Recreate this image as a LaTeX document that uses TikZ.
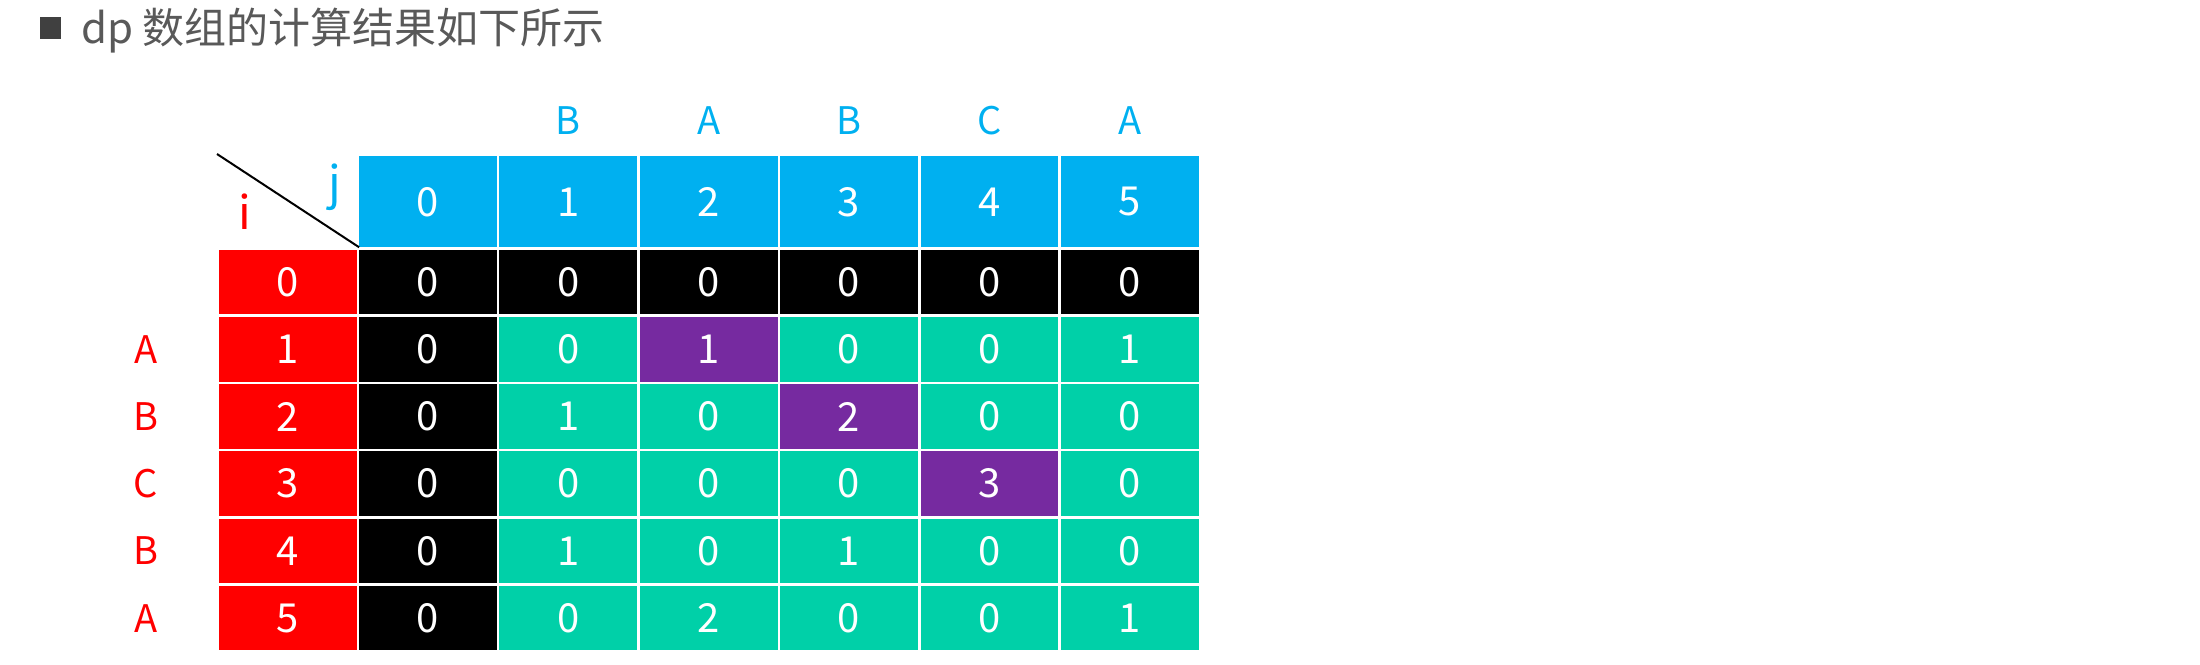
\documentclass[tikz,border=0pt]{standalone}
\usepackage{fontspec}
\setmainfont{Noto Sans CJK SC}
\definecolor{hdrcyan}{RGB}{0,176,240}
\definecolor{rowred}{RGB}{255,0,0}
\definecolor{cellgreen}{RGB}{0,208,168}
\definecolor{cellpurple}{RGB}{118,42,160}
\definecolor{titlegray}{RGB}{89,89,89}
\definecolor{squaregray}{RGB}{64,64,64}
\tikzset{
  cellbox/.style={draw=white, line width=2.5pt, minimum width=140.35pt, minimum height=67.2pt,
    inner sep=0pt, text=white, font=\fontsize{40}{40}\selectfont},
  hdrbox/.style={cellbox, fill=hdrcyan, minimum height=93.5pt},
  toplabel/.style={text=hdrcyan, inner sep=0pt, font=\fontsize{38}{38}\selectfont},
  sidelabel/.style={text=rowred, inner sep=0pt, font=\fontsize{38}{38}\selectfont},
}
\begin{document}
\begin{tikzpicture}[x=1pt,y=-1pt]
\useasboundingbox (0,0) rectangle (2200,664);
% title
\node[fill=squaregray, minimum width=21pt, minimum height=22pt, inner sep=0pt] (sq) at (50.5,28) {};
\node[anchor=base west, inner sep=0pt, text=titlegray, font=\fontsize{42}{42}\selectfont] (title) at (81,43) {dp 数组的计算结果如下所示};
% column header
\foreach \j in {0,...,5}
  \node[hdrbox] (ch-\j) at ({217.5+140.35*(\j+1.5)},201.75) {\j};
% row headers
\foreach \r in {0,...,5}
  \node[cellbox, fill=rowred] (rh-\r) at ({217.5+140.35*0.5},{248.5+67.2*(\r+0.5)}) {\r};
% data rows
\foreach \j/\v/\c in {0/0/black,1/0/black,2/0/black,3/0/black,4/0/black,5/0/black}
  \node[cellbox, fill=\c] (c-0-\j) at ({217.5+140.35*(\j+1.5)},{248.5+67.2*0.5}) {\v};
\foreach \j/\v/\c in {0/0/black,1/0/cellgreen,2/1/cellpurple,3/0/cellgreen,4/0/cellgreen,5/1/cellgreen}
  \node[cellbox, fill=\c] (c-1-\j) at ({217.5+140.35*(\j+1.5)},{248.5+67.2*1.5}) {\v};
\foreach \j/\v/\c in {0/0/black,1/1/cellgreen,2/0/cellgreen,3/2/cellpurple,4/0/cellgreen,5/0/cellgreen}
  \node[cellbox, fill=\c] (c-2-\j) at ({217.5+140.35*(\j+1.5)},{248.5+67.2*2.5}) {\v};
\foreach \j/\v/\c in {0/0/black,1/0/cellgreen,2/0/cellgreen,3/0/cellgreen,4/3/cellpurple,5/0/cellgreen}
  \node[cellbox, fill=\c] (c-3-\j) at ({217.5+140.35*(\j+1.5)},{248.5+67.2*3.5}) {\v};
\foreach \j/\v/\c in {0/0/black,1/1/cellgreen,2/0/cellgreen,3/1/cellgreen,4/0/cellgreen,5/0/cellgreen}
  \node[cellbox, fill=\c] (c-4-\j) at ({217.5+140.35*(\j+1.5)},{248.5+67.2*4.5}) {\v};
\foreach \j/\v/\c in {0/0/black,1/0/cellgreen,2/2/cellgreen,3/0/cellgreen,4/0/cellgreen,5/1/cellgreen}
  \node[cellbox, fill=\c] (c-5-\j) at ({217.5+140.35*(\j+1.5)},{248.5+67.2*5.5}) {\v};
% string letters
\foreach \j/\l in {1/B,2/A,3/B,4/C,5/A}
  \node[toplabel] (top-\j) at ({217.5+140.35*(\j+1.5)},120.5) {\l};
\foreach \r/\l in {1/A,2/B,3/C,4/B,5/A}
  \node[sidelabel] (side-\r) at (146,{248.5+67.2*(\r+0.5)}) {\l};
% corner
\coordinate (dtl) at (217,154);
\draw[line width=2pt] (dtl) -- (rh-0.north east);
\node[text=rowred, inner sep=0pt, font=\fontsize{46}{46}\selectfont] (ilab) at (245,212) {i};
\node[text=hdrcyan, inner sep=0pt, font=\fontsize{46}{46}\selectfont] (jlab) at (335,187) {j};
\end{tikzpicture}
\end{document}
